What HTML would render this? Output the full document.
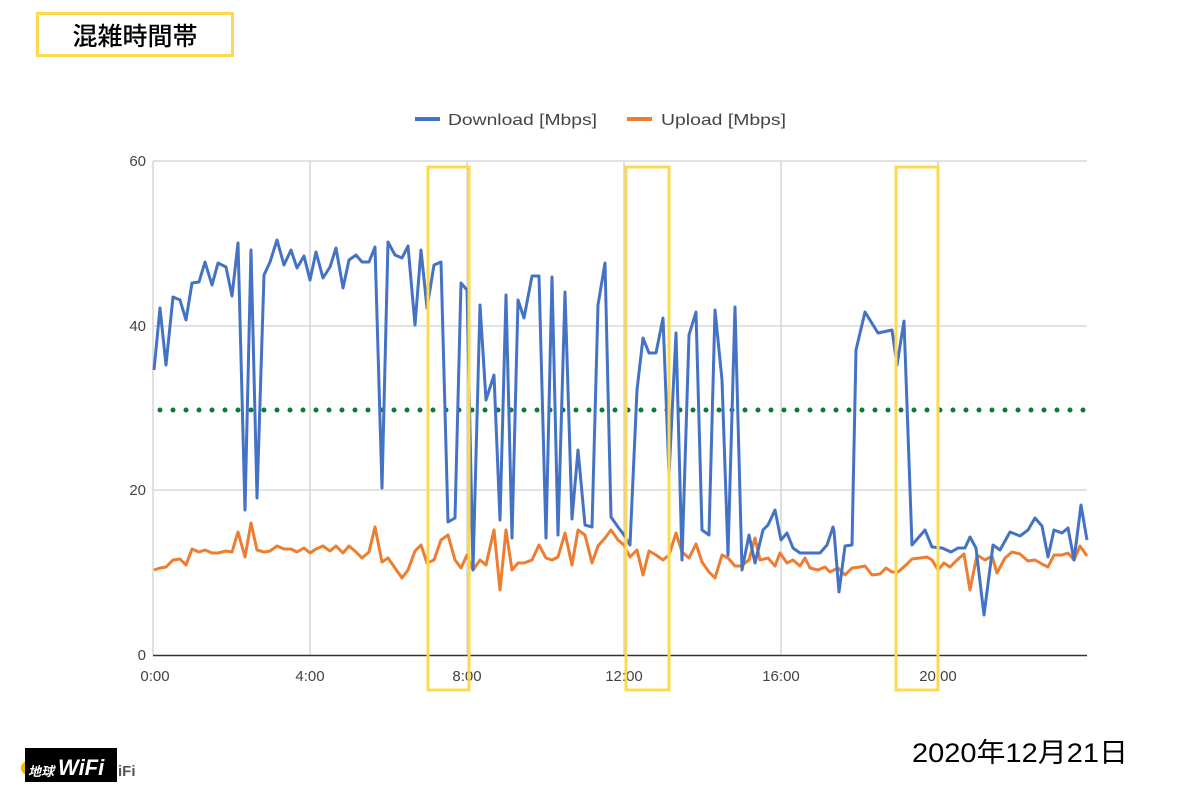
<!DOCTYPE html>
<html><head><meta charset="utf-8"><style>
body{margin:0;width:1200px;height:800px;background:#fff;overflow:hidden;font-family:"Liberation Sans","Noto Sans CJK JP",sans-serif}
</style></head><body>
<svg width="1200" height="800" viewBox="0 0 1200 800" xmlns="http://www.w3.org/2000/svg" style="position:absolute;left:0;top:0">
<rect x="37.5" y="13.5" width="195" height="42" fill="none" stroke="#fcd94f" stroke-width="3"/>
<text x="135" y="45" text-anchor="middle" font-size="25" font-weight="500" font-family="Noto Sans CJK JP, sans-serif" fill="#000">混雑時間帯</text>
<!-- legend -->
<line x1="415" y1="119" x2="440" y2="119" stroke="#4472c4" stroke-width="4"/>
<text x="448" y="125" font-size="16" fill="#444" textLength="149" lengthAdjust="spacingAndGlyphs">Download [Mbps]</text>
<line x1="627" y1="119" x2="652" y2="119" stroke="#ed7d31" stroke-width="4"/>
<text x="661" y="125" font-size="16" fill="#444" textLength="125" lengthAdjust="spacingAndGlyphs">Upload [Mbps]</text>
<!-- grid -->
<g stroke="#d0d0d0" stroke-width="1.3">
<line x1="153" y1="161" x2="1087" y2="161"/><line x1="153" y1="326" x2="1087" y2="326"/><line x1="153" y1="490" x2="1087" y2="490"/>
<line x1="153" y1="161" x2="153" y2="655"/><line x1="310" y1="161" x2="310" y2="655"/><line x1="467" y1="161" x2="467" y2="655"/><line x1="624" y1="161" x2="624" y2="655"/><line x1="781" y1="161" x2="781" y2="655"/><line x1="938" y1="161" x2="938" y2="655"/>
</g>
<line x1="153" y1="655.5" x2="1087" y2="655.5" stroke="#333" stroke-width="1.5"/>
<g font-size="15" fill="#444" text-anchor="end">
<text x="146" y="166">60</text><text x="146" y="331">40</text><text x="146" y="495">20</text><text x="146" y="660">0</text>
</g>
<g font-size="15" fill="#444" text-anchor="middle">
<text x="155" y="681">0:00</text><text x="310" y="681">4:00</text><text x="467" y="681">8:00</text><text x="624" y="681">12:00</text><text x="781" y="681">16:00</text><text x="938" y="681">20:00</text>
</g>
<line x1="160" y1="410" x2="1085" y2="410" stroke="#0b7a34" stroke-width="5" stroke-linecap="round" stroke-dasharray="0 13"/>
<polyline fill="none" stroke="#ed7d31" stroke-width="3" stroke-linejoin="round" points="154,570 160,568 166,567 173,560 180,559 186,565 192,549 199,552 205,550 212,553 218,553 226,551 232,552 238,532 245,557 251,523 257,550 264,552 270,551 277,546 284,549 291,549 297,552 304,548 310,553 316,549 323,546 330,551 336,546 343,553 349,546 356,552 362,558 369,552 375,527 382,562 388,558 395,568 402,578 408,570 415,551 421,545 427,563 434,560 441,540 448,535 455,560 461,568 467,555 473,570 480,560 486,565 494,530 500,590 506,530 512,570 518,563 524,563 532,560 539,545 546,558 552,560 558,557 565,533 572,565 578,530 585,535 592,563 598,546 605,538 611,530 618,540 624,545 630,557 637,550 643,575 649,551 656,555 663,560 669,555 676,533 682,552 689,558 696,544 702,562 709,572 715,578 722,555 728,558 735,566 741,566 749,560 755,538 760,560 768,558 775,566 780,553 787,563 793,560 800,566 805,558 810,568 818,570 825,567 830,572 838,568 845,575 852,568 860,567 865,566 872,575 880,574 886,568 892,572 898,572 906,565 912,559 920,558 927,557 932,560 938,570 944,563 950,567 957,560 964,554 970,590 977,555 985,560 992,556 997,573 1005,558 1012,552 1020,554 1028,561 1035,560 1042,564 1048,567 1054,555 1062,555 1068,553 1074,560 1080,546 1087,556"/>
<polyline fill="none" stroke="#4472c4" stroke-width="3" stroke-linejoin="round" points="154,370 160,308 166,365 173,297 180,300 186,320 192,283 199,282 205,262 212,285 218,263 226,267 232,296 238,243 245,510 251,250 257,498 264,275 270,262 277,240 284,265 291,250 297,268 304,256 310,280 316,252 323,278 330,267 336,248 343,288 349,260 356,255 362,262 369,262 375,247 382,488 388,242 395,255 402,258 408,246 415,325 421,250 427,308 434,265 441,262 448,522 455,518 461,283 467,290 473,570 480,305 486,400 494,375 500,520 506,295 512,538 518,300 524,318 532,276 539,276 546,538 552,277 558,535 565,292 572,519 578,450 585,525 592,527 598,305 605,263 611,517 618,527 624,535 630,545 637,390 643,338 649,353 656,353 663,318 669,475 676,333 682,560 689,335 696,312 702,530 709,535 715,310 722,380 728,555 735,307 742,570 749,535 755,563 763,530 768,525 775,510 781,540 787,533 793,548 800,553 810,553 820,553 827,545 833,527 834,531 839,592 845,546 852,545 856,350 865,312 878,333 892,330 897,365 904,321 912,545 925,530 932,547 942,548 951,552 958,548 965,548 970,537 976,548 984,615 993,545 1000,550 1010,532 1020,536 1028,530 1035,518 1042,526 1048,557 1054,530 1062,533 1068,528 1074,560 1081,505 1087,540"/>
<g fill="none" stroke="#fcd94f" stroke-width="3">
<rect x="428" y="167" width="41" height="523"/>
<rect x="626" y="167" width="43" height="523"/>
<rect x="896" y="167" width="42" height="523"/>
</g>
<text x="1020" y="762" text-anchor="middle" font-size="27" font-family="Liberation Sans, Noto Sans CJK JP, sans-serif" fill="#000" textLength="216" lengthAdjust="spacingAndGlyphs">2020年12月21日</text>
<circle cx="28" cy="768" r="7" fill="#f5b400"/>
<rect x="25" y="748" width="92" height="34" fill="#000"/>
<text x="28" y="776" font-size="13" font-style="italic" font-weight="bold" fill="#fff" font-family="Noto Sans CJK JP, sans-serif">地球</text>
<text x="58" y="775" font-size="22" font-style="italic" font-weight="bold" fill="#fff">WiFi</text>
<text x="118" y="776" font-size="15" font-weight="bold" fill="#555">iFi</text>
</svg>
</body></html>
